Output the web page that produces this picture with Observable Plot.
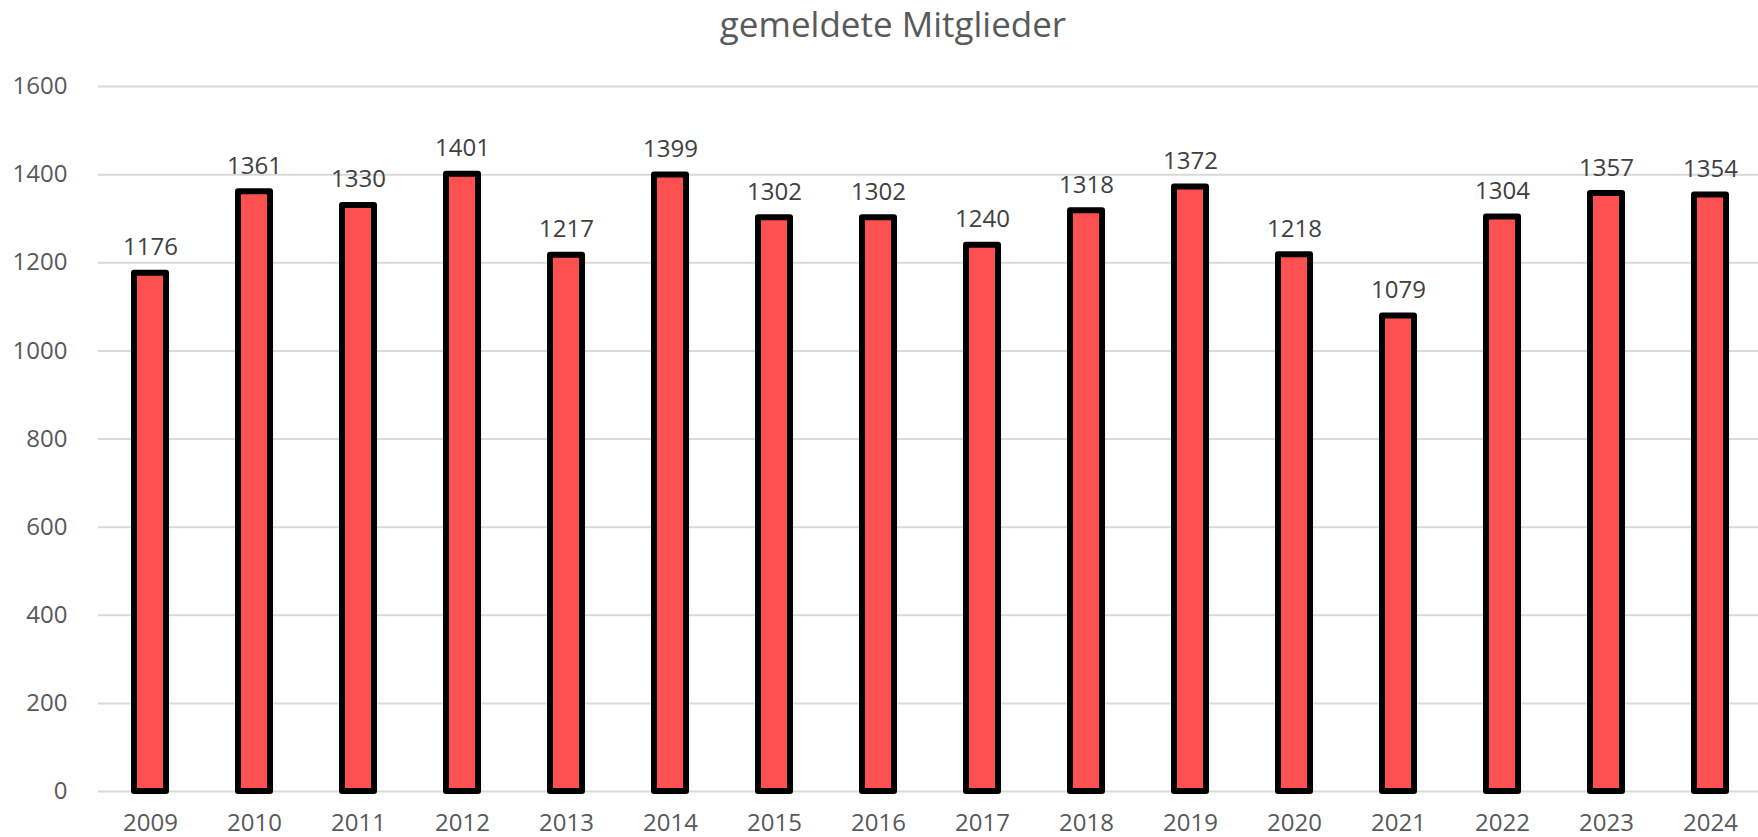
<!DOCTYPE html>
<html>
<head>
<meta charset="utf-8">
<script src="https://cdn.jsdelivr.net/npm/d3@7"></script>
<script src="https://cdn.jsdelivr.net/npm/@observablehq/plot@0.6"></script>
<style>
  html, body { margin: 0; padding: 0; background: #fff; }
  #title { height: 48px; line-height: 48px; font-family: "Open Sans", sans-serif; font-size: 35px; color: #595959; text-align: center; padding-left: 28px; box-sizing: border-box; width: 1758px; }
  svg { display: block; }
</style>
</head>
<body>
<div id="title">gemeldete Mitglieder</div>
<div id="chart"></div>
<script>
const years = ["2009","2010","2011","2012","2013","2014","2015","2016","2017","2018","2019","2020","2021","2022","2023","2024"];
const members = [1176,1361,1330,1401,1217,1399,1302,1302,1240,1318,1372,1218,1079,1304,1357,1354];
const yTicks = [0,200,400,600,800,1000,1200,1400,1600];

const data = years.map((y, i) => ({year: y, value: members[i]}));

const chart = Plot.plot({
  width: 1758,
  height: 789,
  marginTop: 38,
  marginBottom: 46,
  marginLeft: 98,
  marginRight: 0,
  style: {fontFamily: "Open Sans, sans-serif", fontSize: "24px", color: "#595959", background: "#fff"},
  x: {domain: years, range: [98, 1763], paddingInner: 0.69, paddingOuter: 0.345, label: null},
  y: {domain: [0, 1600], label: null},
  marks: [
    Plot.ruleY(yTicks, {stroke: "#d9d9d9", strokeWidth: 2}),
    Plot.barY(data, {x: "year", y: "value", fill: "#FF5050", stroke: "black", strokeWidth: 6, strokeLinejoin: "round"}),
    Plot.text(data, {x: "year", y: "value", text: d => String(d.value), lineAnchor: "bottom", dy: -18, fill: "#404040", fontSize: 24}),
    Plot.axisX({tickSize: 0, tickPadding: 22, fontSize: 24, fill: "#595959"}),
    Plot.axisY({ticks: yTicks, tickSize: 0, tickPadding: 31, tickFormat: d => String(d), fontSize: 24, fill: "#595959"})
  ]
});
document.getElementById("chart").appendChild(chart);
</script>
</body>
</html>
